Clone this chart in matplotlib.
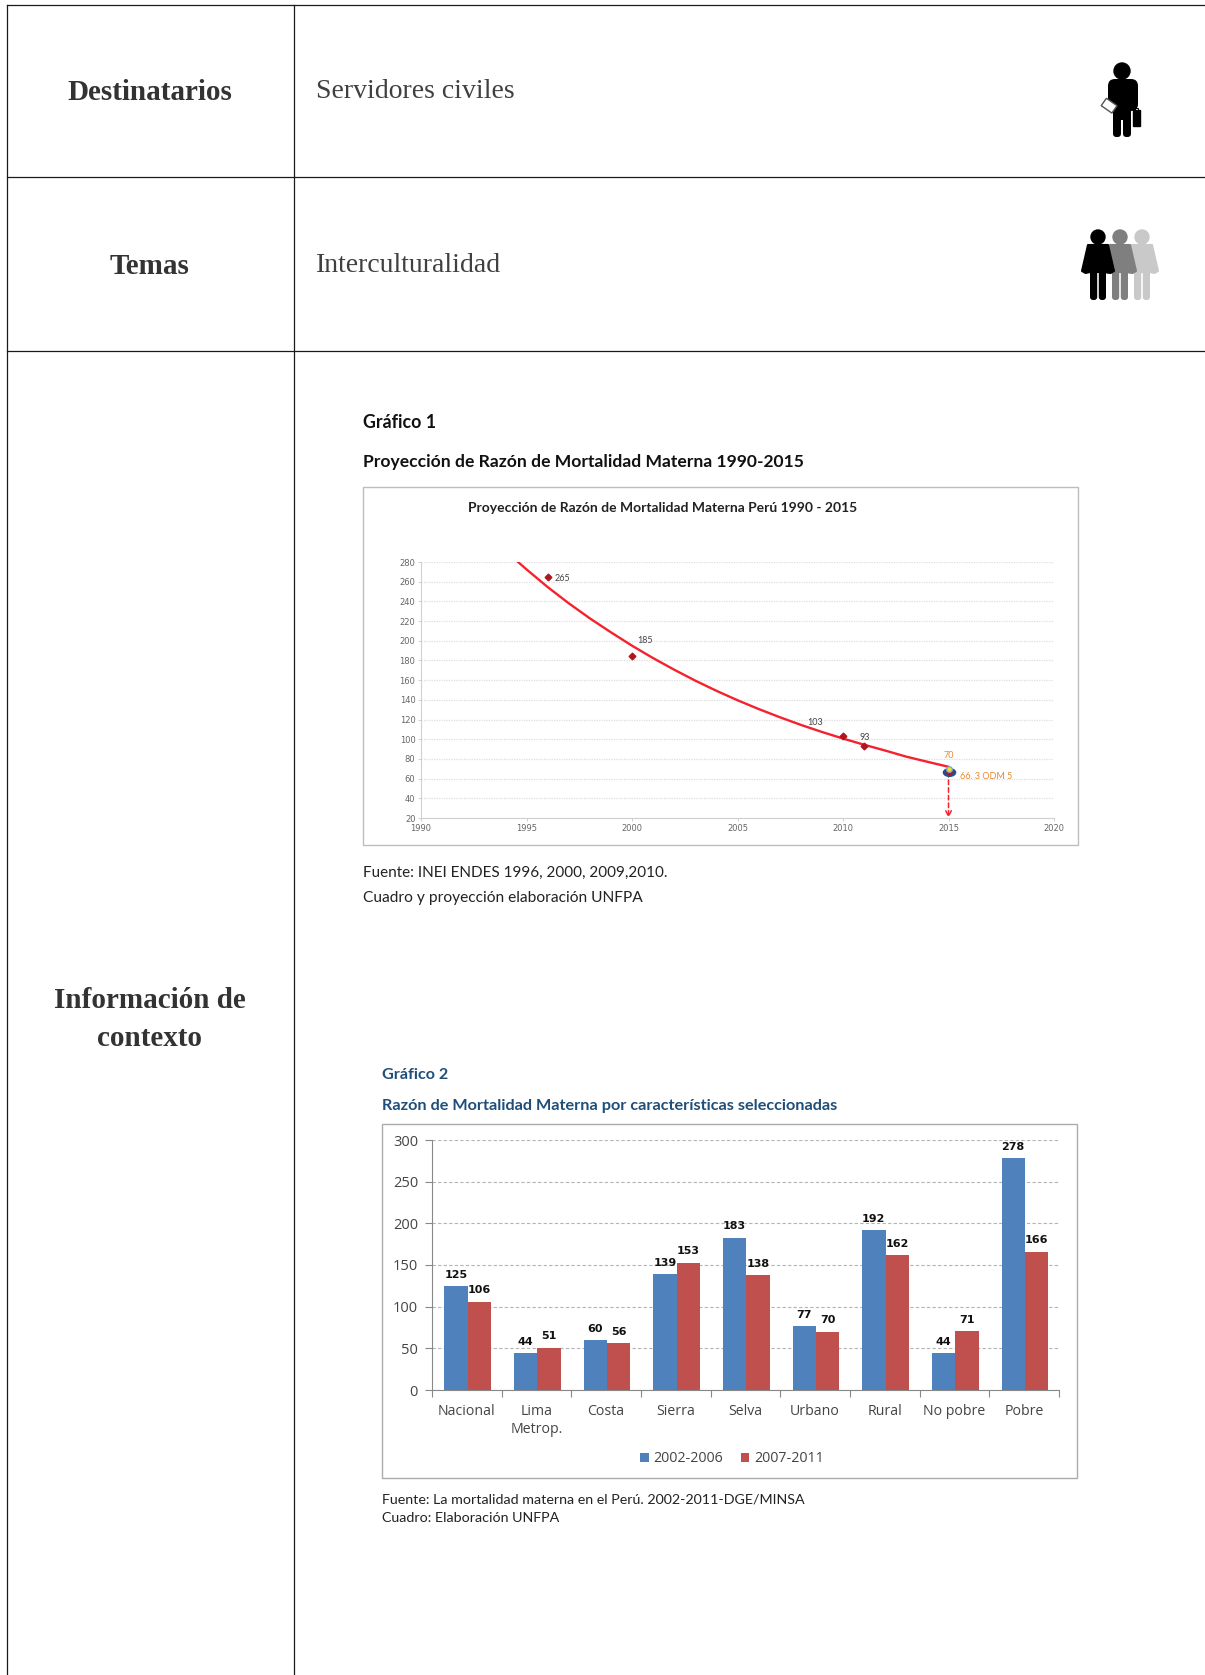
import matplotlib
matplotlib.use("Agg")
import matplotlib.pyplot as plt
from matplotlib.markers import MarkerStyle
from matplotlib.patches import Circle, FancyBboxPatch, Polygon, Rectangle
from matplotlib.transforms import Affine2D

W, H = 1205, 1675

# Gráfico 1
curve_years = [1994.6, 1995, 1996, 1997, 1998, 1999, 2000, 2001, 2002, 2003, 2004,
               2005, 2006, 2007, 2008, 2009, 2010, 2011, 2012, 2013, 2014, 2015]
curve_values = [280.0, 272.5, 254.6, 238.1, 222.8, 208.6, 195.0, 182.4, 170.6, 159.5, 149.2,
                139.6, 130.7, 122.4, 114.6, 107.4, 100.7, 94.4, 88.5, 82.3, 77.1, 72.0]
survey_years = [1996, 2000, 2010, 2011]
survey_values = [265, 185, 103, 93]
survey_labels = ["265", "185", "103", "93"]
target_year = 2015
projected_value = 70
goal_value = 66.3
x_ticks_1 = [1990, 1995, 2000, 2005, 2010, 2015, 2020]
y_ticks_1 = list(range(20, 281, 20))

# Gráfico 2
categories = ["Nacional", "Lima\nMetrop.", "Costa", "Sierra", "Selva",
              "Urbano", "Rural", "No pobre", "Pobre"]
series_2002_2006 = [125, 44, 60, 139, 183, 77, 192, 44, 278]
series_2007_2011 = [106, 51, 56, 153, 138, 70, 162, 71, 166]
y_ticks_2 = [0, 50, 100, 150, 200, 250, 300]

BLUE, RED = "#4F81BD", "#C0504D"
SERIF = ["Liberation Serif", "DejaVu Serif"]
SANS = ["Lato", "DejaVu Sans"]

fig = plt.figure(figsize=(W / 100, H / 100), dpi=100, facecolor="white")

# Page-wide layer in pixel units for the table, captions and pictograms
page = fig.add_axes([0, 0, 1, 1])
page.set_xlim(0, W)
page.set_ylim(H, 0)
page.axis("off")


def axes_px(left, top, right, bottom):
    return fig.add_axes([left / W, 1 - bottom / H, (right - left) / W, (bottom - top) / H])


# Table rules
for y in (5, 177, 350.5):
    page.plot([7, W], [y, y], color="#1A1A1A", lw=0.9)
for x in (7, 293.5):
    page.plot([x, x], [5, H], color="#1A1A1A", lw=0.9)

# Table text
head = dict(family=SERIF, fontsize=21, fontweight="bold", color="#333333",
            ha="center", va="center")
page.text(150, 92, "Destinatarios", **head)
page.text(150, 266, "Temas", **head)
page.text(150, 1000, "Información de", **head)
page.text(150, 1039, "contexto", **head)
body = dict(family=SERIF, fontsize=20, color="#404040", ha="left", va="center")
page.text(316, 92, "Servidores civiles", **body)
page.text(316, 266, "Interculturalidad", **body)


def person(cx, top, color, z):
    """Standing pictogram: head, torso with arms, two legs."""
    page.add_patch(Circle((cx, top + 7), 7, color=color, zorder=z))
    page.add_patch(Polygon([(cx - 10, top + 15), (cx + 10, top + 15), (cx + 16, top + 41),
                            (cx + 12.5, top + 43), (cx + 8, top + 42), (cx - 8, top + 42),
                            (cx - 12.5, top + 43), (cx - 16, top + 41)],
                           closed=True, color=color, joinstyle="round", lw=1.5, zorder=z))
    for dx in (-8, 0.8):
        page.add_patch(FancyBboxPatch((cx + dx, top + 38), 7.2, 32, boxstyle="round,pad=0,rounding_size=3",
                                      color=color, lw=0, zorder=z))


# Single figure with briefcase and document
page.add_patch(Circle((1122, 71), 8, color="black"))
page.add_patch(FancyBboxPatch((1108, 79), 30, 32, boxstyle="round,pad=0,rounding_size=7", color="black", lw=0))
page.add_patch(FancyBboxPatch((1113, 100), 18, 20, boxstyle="round,pad=0,rounding_size=1", color="black", lw=0))
for lx in (1113, 1123):
    page.add_patch(FancyBboxPatch((lx, 115), 8, 22, boxstyle="round,pad=0,rounding_size=3.5", color="black", lw=0))
page.add_patch(Rectangle((1133, 110), 6.5, 15.5, color="black"))
page.add_patch(Rectangle((1134.5, 108), 3, 3, fill=False, ec="black", lw=0.7))
page.add_patch(Rectangle((1103, 101), 13, 9, fc="white", ec="#555555", lw=1,
                         transform=Affine2D().rotate_deg_around(1109, 105, 35) + page.transData, zorder=3))

# Group of three figures, frontmost on the left
person(1142, 230, "#C9C9C9", 2)
person(1120, 230, "#7F7F7F", 3)
person(1098, 230, "black", 4)

# Captions around the two charts
page.text(363, 423, "Gráfico 1", family=SANS, fontsize=12.8, fontweight="bold", color="#111111", va="center")
page.text(363, 462, "Proyección de Razón de Mortalidad Materna 1990-2015", family=SANS, fontsize=12.6,
          fontweight="bold", color="#111111", va="center")
page.text(363, 873, "Fuente: INEI ENDES 1996, 2000, 2009,2010.", family=SANS, fontsize=11, color="#222222", va="center")
page.text(363, 898, "Cuadro y proyección elaboración UNFPA", family=SANS, fontsize=11.2, color="#222222", va="center")
page.add_patch(Rectangle((363, 487), 715, 358, fill=False, ec="#BDBDBD", lw=1.0))

page.text(382, 1075, "Gráfico 2", family=SANS, fontsize=11.6, fontweight="bold", color="#1F4E79", va="center")
page.text(382, 1106, "Razón de Mortalidad Materna por características seleccionadas", family=SANS, fontsize=11.7,
          fontweight="bold", color="#1F4E79", va="center")
page.text(382, 1499, "Fuente: La mortalidad materna en el Perú. 2002-2011-DGE/MINSA", family=SANS, fontsize=10.3,
          color="#222222", va="center")
page.text(382, 1518, "Cuadro: Elaboración UNFPA", family=SANS, fontsize=10.25, color="#222222", va="center")
page.add_patch(Rectangle((382, 1124), 695, 354, fill=False, ec="#ABABAB", lw=1.0))

# Chart 1: projected ratio
ax1 = axes_px(421, 562, 1054, 818)
ax1.patch.set_alpha(0)
ax1.set_xlim(1990, 2020)
ax1.set_ylim(20, 280)
ax1.set_xticks(x_ticks_1)
ax1.set_yticks(y_ticks_1)
ax1.grid(axis="y", color="#DEDEDE", lw=0.9, ls=(0, (1, 1)))
ax1.set_axisbelow(True)
ax1.tick_params(labelsize=6, labelcolor="#666666", length=2, width=0.6, pad=2, color="#C8C8C8")
for name, spine in ax1.spines.items():
    spine.set_visible(name in ("left", "bottom"))
    spine.set_color("#D0D0D0")
ax1.plot(curve_years, curve_values, color="#F5222D", lw=1.7, zorder=3, solid_joinstyle="round")
ax1.plot(survey_years, survey_values, ls="none", marker="D", ms=3.4, color="#B0161E", zorder=4)
label_shifts = [(5, -1.5), (4, 11), (-26, 10), (-3, 6.5)]
for xv, yv, text, (dx, dy) in zip(survey_years, survey_values, survey_labels, label_shifts):
    ax1.annotate(text, (xv, yv), xytext=(dx, dy), textcoords="offset points", fontsize=6.5,
                 color="#444444", va="center", family=SANS)
ax1.annotate("", xy=(target_year, 20), xytext=(target_year, goal_value),
             arrowprops=dict(arrowstyle="->", color="#F5222D", ls=(0, (3, 2)), lw=1.1, shrinkA=0, shrinkB=0))
wide_dot = MarkerStyle("o", transform=Affine2D().scale(1.35, 0.85))
ax1.plot([target_year], [goal_value], marker=wide_dot, ms=6.5, color="#2B4C8C", ls="none", zorder=5)
ax1.plot([target_year], [goal_value], marker="D", ms=2.8, color="#B0161E", ls="none", zorder=6)
ax1.plot([target_year], [projected_value], marker="o", ms=4, mfc="#E8E23A", mec="#7FA8CF", mew=1, ls="none", zorder=7)
ax1.annotate("70", (target_year, projected_value), xytext=(0, 9.5), textcoords="offset points", fontsize=6.5,
             color="#E58A2E", ha="center", va="center", family=SANS)
ax1.annotate("66. 3 ODM 5", (target_year, goal_value), xytext=(8, -3), textcoords="offset points", fontsize=6.5,
             color="#E58A2E", va="center", family=SANS)
page.text(663, 508, "Proyección de Razón de Mortalidad Materna Perú 1990 - 2015", family=SANS, fontsize=10,
          fontweight="bold", color="#222222", ha="center", va="center")

# Chart 2: ratio by selected characteristics
ax2 = axes_px(432, 1140, 1059, 1390)
ax2.patch.set_alpha(0)
ax2.set_xlim(0, len(categories))
ax2.set_ylim(0, 300)
bar_w = 0.335
centres = [i + 0.5 for i in range(len(categories))]
bars_a = ax2.bar([c - bar_w / 2 + 0.01 for c in centres], series_2002_2006, bar_w, color=BLUE, label="2002-2006", zorder=3)
bars_b = ax2.bar([c + bar_w / 2 + 0.01 for c in centres], series_2007_2011, bar_w, color=RED, label="2007-2011", zorder=3)
for bars in (bars_a, bars_b):
    ax2.bar_label(bars, padding=4.5, fontsize=8, fontweight="bold", color="#111111", family="DejaVu Sans")
ax2.set_yticks(y_ticks_2)
ax2.set_xticks(range(len(categories) + 1))
ax2.set_xticklabels([])
ax2.grid(axis="y", color="#B4B4B4", lw=0.8, ls=(0, (3, 2)))
ax2.set_axisbelow(True)
ax2.tick_params(axis="y", labelsize=10.5, labelcolor="#444444", color="#888888", length=5, pad=5)
ax2.tick_params(axis="x", color="#888888", length=5)
for tick in ax2.get_yticklabels():
    tick.set_family("Open Sans")
for c, name in zip(centres, categories):
    ax2.annotate(name, (c, 0), xytext=(0, -10), textcoords="offset points", ha="center", va="top",
                 fontsize=10.2, color="#444444", family="Open Sans", linespacing=1.25)
for name, spine in ax2.spines.items():
    spine.set_visible(name in ("left", "bottom"))
    spine.set_color("#888888")
ax2.legend(loc="center", bbox_to_anchor=(732 / W, 1 - 1459 / H), bbox_transform=fig.transFigure, ncol=2,
           frameon=False, prop={"family": "Open Sans", "size": 10.3}, labelcolor="#444444", handlelength=0.6,
           handleheight=0.6, handletextpad=0.35, columnspacing=1.2)

fig.savefig("out.png", dpi=100)
